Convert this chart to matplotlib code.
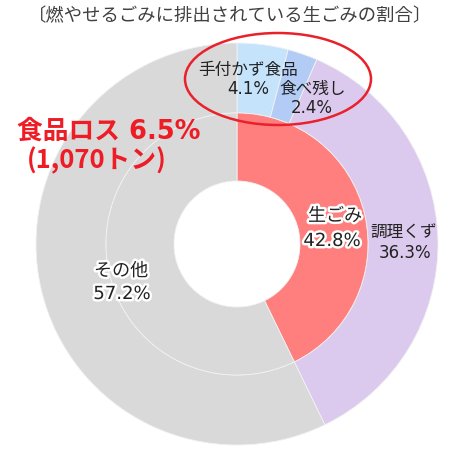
import matplotlib.pyplot as plt
import matplotlib.patheffects as pe
from matplotlib.patches import Ellipse

plt.rcParams['font.family'] = ['DejaVu Sans', 'Noto Sans CJK JP']

title = '〔燃やせるごみに排出されている生ごみの割合〕'
outer_labels = ['手付かず食品', '食べ残し', '調理くず', 'その他']
outer_values = [4.1, 2.4, 36.3, 57.2]
outer_colors = ['#c5e3fb', '#b3ccf6', '#dccaee', '#d9d9d9']
inner_labels = ['生ごみ', 'その他']
inner_values = [42.8, 57.2]
inner_colors = ['#ff7f7f', '#d9d9d9']
loss_tons = '1,070'

W, H = 465, 456
cx, cy = 237, H - 245
r_out, r_mid, r_hole = 201, 131, 63


def main():
    fig = plt.figure(figsize=(W / 100, H / 100), dpi=100)
    ax = fig.add_axes([0, 0, 1, 1])

    ax.pie(outer_values, colors=outer_colors, startangle=90, counterclock=False,
           center=(cx, cy), radius=r_out,
           wedgeprops=dict(width=r_out - r_mid, edgecolor='#f2f2f2', linewidth=0.6))
    ax.pie(inner_values, colors=inner_colors, startangle=90, counterclock=False,
           center=(cx, cy), radius=r_mid,
           wedgeprops=dict(width=r_mid - r_hole, edgecolor='#f2f2f2', linewidth=0.6))
    ax.set_xlim(0, W)
    ax.set_ylim(0, H)
    ax.set_aspect('equal')
    ax.axis('off')

    fig.text(230 / W, 1 - 16 / H, title, ha='center', va='center', fontsize=13.2, color='#404040')

    def lbl(x, y, s, halo=False, size=12):
        t = ax.text(x, H - y, s, ha='center', va='center', fontsize=size, color='#222222')
        if halo:
            t.set_path_effects([pe.withStroke(linewidth=3.5, foreground='white')])
        return t

    # outer ring labels, one text per line
    lbl(248, 70, outer_labels[0])
    lbl(248, 89, '%.1f%%' % outer_values[0])
    lbl(313, 89, outer_labels[1])
    lbl(312, 108, '%.1f%%' % outer_values[1])
    lbl(404, 232, outer_labels[2])
    lbl(405, 253, '%.1f%%' % outer_values[2])
    # inner ring labels
    lbl(335, 217, inner_labels[0], halo=True, size=13)
    lbl(332, 242, '%.1f%%' % inner_values[0], halo=True, size=13)
    lbl(121, 272, inner_labels[1], halo=True, size=13)
    lbl(122, 295, '%.1f%%' % inner_values[1], halo=True, size=13)

    loss = outer_values[0] + outer_values[1]
    ax.text(17, H - 132, '食品ロス %.1f%%' % loss, ha='left', va='center',
            fontsize=18.5, fontweight='bold', color='#ee1c25')
    ax.text(27, H - 161, '(%sトン)' % loss_tons, ha='left', va='center',
            fontsize=18.5, fontweight='bold', color='#ee1c25', family='Noto Sans CJK JP')

    ax.add_patch(Ellipse((278, H - 80), 186, 92, fill=False, edgecolor='#e8212a', linewidth=1.8))

    fig.savefig('out.png', dpi=100)


if __name__ == '__main__':
    main()
